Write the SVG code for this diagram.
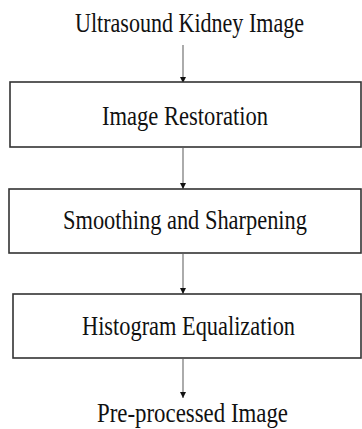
<svg xmlns="http://www.w3.org/2000/svg" width="362" height="429" viewBox="0 0 362 429">
<style>
text{font-family:"Liberation Serif","Times New Roman",serif;font-size:27px;fill:#111;}
.box{fill:#fff;stroke:#333;stroke-width:1.6;}
.con{stroke:#888;stroke-width:1.4;fill:none;marker-end:url(#ah);}
</style>
<defs>
<marker id="ah" markerWidth="8" markerHeight="8" refX="7" refY="4" orient="auto" markerUnits="userSpaceOnUse" viewBox="0 0 8 8">
<path d="M1,1 L7,4 L1,7 Z" fill="#111"/>
</marker>
</defs>
<rect width="362" height="429" fill="#fff"/>
<g id="connectors">
<line class="con" x1="183" y1="45" x2="183" y2="83"/>
<line class="con" x1="183" y1="148" x2="183" y2="189"/>
<line class="con" x1="183" y1="254" x2="183" y2="294"/>
<line class="con" x1="183" y1="359" x2="183" y2="398"/>
</g>
<g id="input">
<text x="75" y="32" font-size="26" textLength="229" lengthAdjust="spacingAndGlyphs">Ultrasound Kidney Image</text>
</g>
<g id="restoration">
<rect class="box" x="10" y="82" width="351" height="65"/>
<text x="102" y="125" textLength="166" lengthAdjust="spacingAndGlyphs">Image Restoration</text>
</g>
<g id="smoothing">
<rect class="box" x="9" y="189" width="352" height="64"/>
<text x="63" y="229" textLength="244" lengthAdjust="spacingAndGlyphs">Smoothing and Sharpening</text>
</g>
<g id="histogram">
<rect class="box" x="13" y="294" width="348" height="64"/>
<text x="82" y="335" textLength="213" lengthAdjust="spacingAndGlyphs">Histogram Equalization</text>
</g>
<g id="output">
<text x="97" y="422" font-size="26" textLength="191" lengthAdjust="spacingAndGlyphs">Pre-processed Image</text>
</g>
</svg>
